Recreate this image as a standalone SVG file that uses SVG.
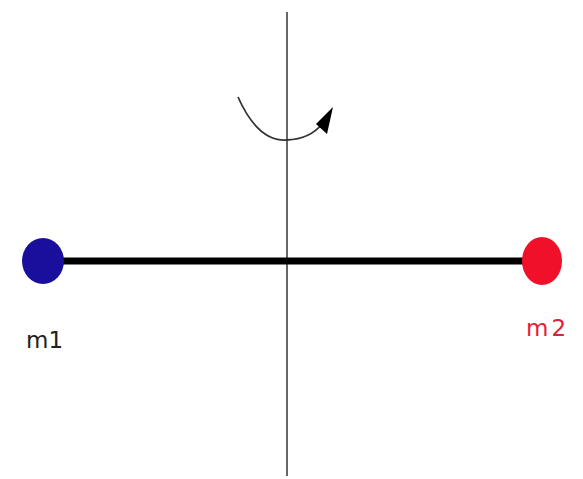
<svg xmlns="http://www.w3.org/2000/svg" width="583" height="479" viewBox="0 0 583 479">
<style>
.lbl{font-family:"DejaVu Sans","Liberation Sans",sans-serif;font-size:23px}
</style>
<rect width="583" height="479" fill="#fff"/>
<g id="axis">
<line x1="287" y1="12" x2="287" y2="476" stroke="#333" stroke-width="1.5"/>
</g>
<g id="connectors">
<line x1="43" y1="261" x2="542" y2="261" stroke="#000" stroke-width="7"/>
<path d="M238,97 Q258,142 287,140 Q310,139 322,124" fill="none" stroke="#333" stroke-width="1.8"/>
<path d="M316,124 L333,107 L327,134 Z" fill="#000"/>
</g>
<g id="m1">
<ellipse cx="43" cy="261" rx="21" ry="23" fill="#1a0f9c"/>
<text class="lbl" x="26" y="348" fill="#222">m1</text>
</g>
<g id="m2">
<ellipse cx="542" cy="261" rx="20" ry="24" fill="#f0102a"/>
<text class="lbl" x="526" y="336" fill="#e0203a" letter-spacing="3">m2</text>
</g>
</svg>
